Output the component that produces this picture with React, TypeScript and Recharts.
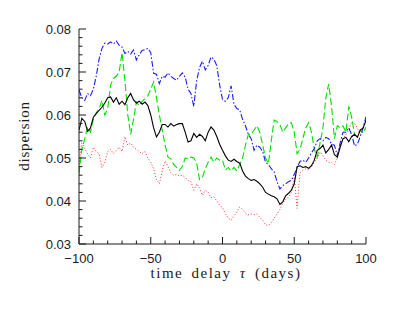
import React from "react";
import { LineChart, Line, XAxis, YAxis } from "recharts";

const tau = [
  -100, -98, -96, -94, -92, -90, -88, -86, -84, -82, -80, -78, -76, -74, -72, -70, -68, -66, -64, -62,
  -60, -58, -56, -54, -52, -50, -48, -46, -44, -42, -40, -38, -36, -34, -32, -30, -28, -26, -24, -22,
  -20, -18, -16, -14, -12, -10, -8, -6, -4, -2, 0, 2, 4, 6, 8, 10, 12, 14, 16, 18,
  20, 22, 24, 26, 28, 30, 32, 34, 36, 38, 40, 42, 44, 46, 48, 50, 52, 54, 56, 58,
  60, 62, 64, 66, 68, 70, 72, 74, 76, 78, 80, 82, 84, 86, 88, 90, 92, 94, 96, 98, 100,
];

const blackSeries = [
  0.0565, 0.0592, 0.0585, 0.0562, 0.057, 0.0595, 0.0603, 0.0611, 0.0618, 0.0628, 0.064, 0.0642, 0.063, 0.064, 0.0625, 0.0632, 0.0624, 0.064, 0.065, 0.0635,
  0.0628, 0.0632, 0.0625, 0.063, 0.0622, 0.06, 0.057, 0.0549, 0.056, 0.0578, 0.0578, 0.0572, 0.058, 0.0574, 0.0578, 0.058, 0.058, 0.056, 0.0537, 0.054,
  0.0557, 0.0548, 0.0555, 0.055, 0.054, 0.056, 0.0572, 0.0565, 0.055, 0.0532, 0.0518, 0.0505, 0.0495, 0.0492, 0.0497, 0.0492, 0.0488, 0.047, 0.0458, 0.0452,
  0.0448, 0.045, 0.0446, 0.044, 0.0432, 0.042, 0.0416, 0.0412, 0.041, 0.0405, 0.0392, 0.0398, 0.0412, 0.0418, 0.0425, 0.044, 0.048, 0.0482, 0.0478, 0.048,
  0.0476, 0.0482, 0.0495, 0.0518, 0.0522, 0.053, 0.0512, 0.052, 0.053, 0.0508, 0.0502, 0.0525, 0.0545, 0.0548, 0.0538, 0.055, 0.0555, 0.0548, 0.0565, 0.057, 0.0588,
];

const blueSeries = [
  0.0658, 0.064, 0.0634, 0.065, 0.0645, 0.066, 0.069, 0.073, 0.0755, 0.0767, 0.0765, 0.077, 0.0765, 0.0772, 0.0762, 0.0758, 0.0743, 0.0748, 0.0742, 0.0751,
  0.0728, 0.074, 0.075, 0.0752, 0.0755, 0.0745, 0.0697, 0.0695, 0.0673, 0.069, 0.0688, 0.0698, 0.069, 0.0685, 0.0681, 0.069, 0.0698, 0.0688, 0.066, 0.065,
  0.062, 0.068, 0.071, 0.0725, 0.0705, 0.0715, 0.0735, 0.073, 0.0715, 0.067, 0.0636, 0.0632, 0.064, 0.0668, 0.0625, 0.0615, 0.0612, 0.059, 0.0575, 0.0555,
  0.0545, 0.0518, 0.053, 0.0525, 0.0515, 0.049, 0.0485, 0.0475, 0.0468, 0.0445, 0.0428, 0.0436, 0.044, 0.0445, 0.0448, 0.0462, 0.0478, 0.0492, 0.0495, 0.049,
  0.05, 0.0512, 0.0522, 0.054, 0.0545, 0.054, 0.0548, 0.0545, 0.0532, 0.053, 0.0505, 0.0535, 0.056, 0.056, 0.057, 0.0555, 0.0528, 0.0532, 0.055, 0.057, 0.0596,
];

const greenSeries = [
  0.0464, 0.052, 0.0545, 0.0572, 0.056, 0.059, 0.0605, 0.0615, 0.0634, 0.06, 0.0615, 0.067, 0.0685, 0.069, 0.07, 0.0745, 0.068, 0.06, 0.0555, 0.059,
  0.063, 0.0622, 0.0632, 0.0638, 0.0645, 0.066, 0.0677, 0.064, 0.06, 0.0565, 0.053, 0.0502, 0.0498, 0.0485, 0.0478, 0.0471, 0.048, 0.05, 0.0498, 0.0502,
  0.05, 0.0488, 0.045, 0.0455, 0.0475, 0.049, 0.0502, 0.049, 0.05, 0.0495, 0.0495, 0.0472, 0.0478, 0.047, 0.0478, 0.047, 0.0485, 0.05, 0.053, 0.0555,
  0.0555, 0.0565, 0.0575, 0.056, 0.053, 0.05, 0.0487, 0.054, 0.0588, 0.0585, 0.0578, 0.056, 0.057, 0.058, 0.0582, 0.056, 0.051, 0.052, 0.0545, 0.057,
  0.0582, 0.056, 0.052, 0.0502, 0.0535, 0.057, 0.064, 0.0672, 0.062, 0.0545, 0.0575, 0.057, 0.0575, 0.056, 0.062, 0.0595, 0.0555, 0.055, 0.0565, 0.0558, 0.0572,
];

const redSeries = [
  0.0485, 0.0535, 0.0522, 0.051, 0.05, 0.0525, 0.0515, 0.051, 0.0478, 0.049, 0.0515, 0.052, 0.051, 0.0518, 0.0525, 0.0515, 0.0549, 0.053, 0.0535, 0.0525,
  0.052, 0.0515, 0.051, 0.0515, 0.05, 0.049, 0.0475, 0.045, 0.044, 0.047, 0.0493, 0.048, 0.0465, 0.046, 0.0462, 0.0458, 0.046, 0.0455, 0.0448, 0.0445,
  0.0425, 0.044, 0.043, 0.0413, 0.0425, 0.042, 0.0408, 0.041, 0.04, 0.039, 0.0385, 0.037, 0.036, 0.0355, 0.0365, 0.0375, 0.0386, 0.038, 0.0372, 0.0368,
  0.037, 0.0368, 0.037, 0.0362, 0.0355, 0.0345, 0.0343, 0.035, 0.036, 0.037, 0.038, 0.0395, 0.0405, 0.0408, 0.042, 0.0456, 0.0383, 0.0465, 0.0471, 0.0475,
  0.0472, 0.048, 0.049, 0.05, 0.0514, 0.0505, 0.0495, 0.049, 0.049, 0.0485, 0.05, 0.053, 0.0545, 0.0555, 0.0565, 0.0585, 0.058, 0.057, 0.0555, 0.056, 0.057,
];

const xTicks = [-100, -90, -80, -70, -60, -50, -40, -30, -20, -10, 0, 10, 20, 30, 40, 50, 60, 70, 80, 90, 100];
const xMajor = [-100, -50, 0, 50, 100];
const xMajorLabels = ["\u2212100", "\u221250", "0", "50", "100"];

const yTicks = [
  0.03, 0.032, 0.034, 0.036, 0.038, 0.04, 0.042, 0.044, 0.046, 0.048, 0.05, 0.052, 0.054, 0.056, 0.058,
  0.06, 0.062, 0.064, 0.066, 0.068, 0.07, 0.072, 0.074, 0.076, 0.078, 0.08,
];
const yMajor = [0.03, 0.04, 0.05, 0.06, 0.07, 0.08];
const yMajorLabels = ["0.03", "0.04", "0.05", "0.06", "0.07", "0.08"];

const data = tau.map((t, i) => ({
  tau: t,
  black: blackSeries[i],
  blue: blueSeries[i],
  green: greenSeries[i],
  red: redSeries[i],
}));

const AX = "#1a1a1a";
const SANS = "'Liberation Sans', Arial, Helvetica, sans-serif";
const SERIF = "'Liberation Serif', 'Times New Roman', serif";
const MAJOR = 7;
const MINOR = 3.5;

const findMajor = (arr: number[], v: number) => arr.findIndex((m) => Math.abs(m - v) < 1e-9);

const BottomTick = (props: any) => {
  const { x, y, payload } = props;
  const idx = findMajor(xMajor, payload.value);
  const len = idx >= 0 ? MAJOR : MINOR;
  return (
    <g>
      <line x1={x} y1={y} x2={x} y2={y - len} stroke={AX} strokeWidth={1} />
      {idx >= 0 && (
        <text x={x} y={y + 19} textAnchor="middle" fontFamily={SANS} fontSize={13} fill={AX}>
          {xMajorLabels[idx]}
        </text>
      )}
    </g>
  );
};

const TopTick = (props: any) => {
  const { x, y, payload } = props;
  const idx = findMajor(xMajor, payload.value);
  const len = idx >= 0 ? MAJOR : MINOR;
  return <line x1={x} y1={y} x2={x} y2={y + len} stroke={AX} strokeWidth={1} />;
};

const LeftTick = (props: any) => {
  const { x, y, payload } = props;
  const idx = findMajor(yMajor, payload.value);
  const len = idx >= 0 ? MAJOR : MINOR;
  return (
    <g>
      <line x1={x} y1={y} x2={x + len} y2={y} stroke={AX} strokeWidth={1} />
      {idx >= 0 && (
        <text x={x - 8} y={y + 4.5} textAnchor="end" fontFamily={SANS} fontSize={13} fill={AX}>
          {yMajorLabels[idx]}
        </text>
      )}
    </g>
  );
};

const RightTick = (props: any) => {
  const { x, y, payload } = props;
  const idx = findMajor(yMajor, payload.value);
  const len = idx >= 0 ? MAJOR : MINOR;
  return <line x1={x} y1={y} x2={x - len} y2={y} stroke={AX} strokeWidth={1} />;
};

export default function App() {
  return (
    <div style={{ position: "absolute", left: 0, top: 0, width: 402, height: 311, background: "#fff" }}>
      <LineChart width={402} height={311} data={data} margin={{ top: 29, right: 36, left: 0, bottom: 0 }}>
        <XAxis
          xAxisId="bottom"
          dataKey="tau"
          type="number"
          domain={[-100, 100]}
          allowDataOverflow
          ticks={xTicks}
          interval={0}
          tickSize={0}
          tickMargin={0}
          tickLine={false}
          tick={<BottomTick />}
          height={67}
          axisLine={{ stroke: AX, strokeWidth: 1 }}
        />
        <XAxis
          xAxisId="top"
          orientation="top"
          dataKey="tau"
          type="number"
          domain={[-100, 100]}
          allowDataOverflow
          ticks={xTicks}
          interval={0}
          tickSize={0}
          tickMargin={0}
          tickLine={false}
          tick={<TopTick />}
          height={0}
          axisLine={{ stroke: AX, strokeWidth: 1 }}
        />
        <YAxis
          yAxisId="left"
          type="number"
          domain={[0.03, 0.08]}
          allowDataOverflow
          ticks={yTicks}
          interval={0}
          tickSize={0}
          tickMargin={0}
          tickLine={false}
          tick={<LeftTick />}
          width={79}
          axisLine={{ stroke: AX, strokeWidth: 1 }}
        />
        <YAxis
          yAxisId="right"
          orientation="right"
          type="number"
          domain={[0.03, 0.08]}
          allowDataOverflow
          ticks={yTicks}
          interval={0}
          tickSize={0}
          tickMargin={0}
          tickLine={false}
          tick={<RightTick />}
          width={0}
          axisLine={{ stroke: AX, strokeWidth: 1 }}
        />
        <Line xAxisId="bottom" yAxisId="left" type="linear" dataKey="red" stroke="#ff3030" strokeWidth={1} strokeDasharray="1 2" dot={false} isAnimationActive={false} />
        <Line xAxisId="bottom" yAxisId="left" type="linear" dataKey="green" stroke="#00e000" strokeWidth={1.1} strokeDasharray="7 3" dot={false} isAnimationActive={false} />
        <Line xAxisId="bottom" yAxisId="left" type="linear" dataKey="blue" stroke="#1a1aff" strokeWidth={1.1} strokeDasharray="6 2 1.5 2" dot={false} isAnimationActive={false} />
        <Line xAxisId="bottom" yAxisId="left" type="linear" dataKey="black" stroke="#000" strokeWidth={1.1} dot={false} isAnimationActive={false} />
        <text
          x={226}
          y={278}
          textAnchor="middle"
          fontFamily={SERIF}
          fontSize={15}
          fill={AX}
          letterSpacing={1.5}
          wordSpacing={3}
        >
          time delay <tspan fontStyle="italic">τ</tspan> (days)
        </text>
        <text
          x={29}
          y={136}
          transform="rotate(-90 29 136)"
          textAnchor="middle"
          fontFamily={SERIF}
          fontSize={15}
          fill={AX}
          letterSpacing={0.8}
        >
          dispersion
        </text>
      </LineChart>
    </div>
  );
}
